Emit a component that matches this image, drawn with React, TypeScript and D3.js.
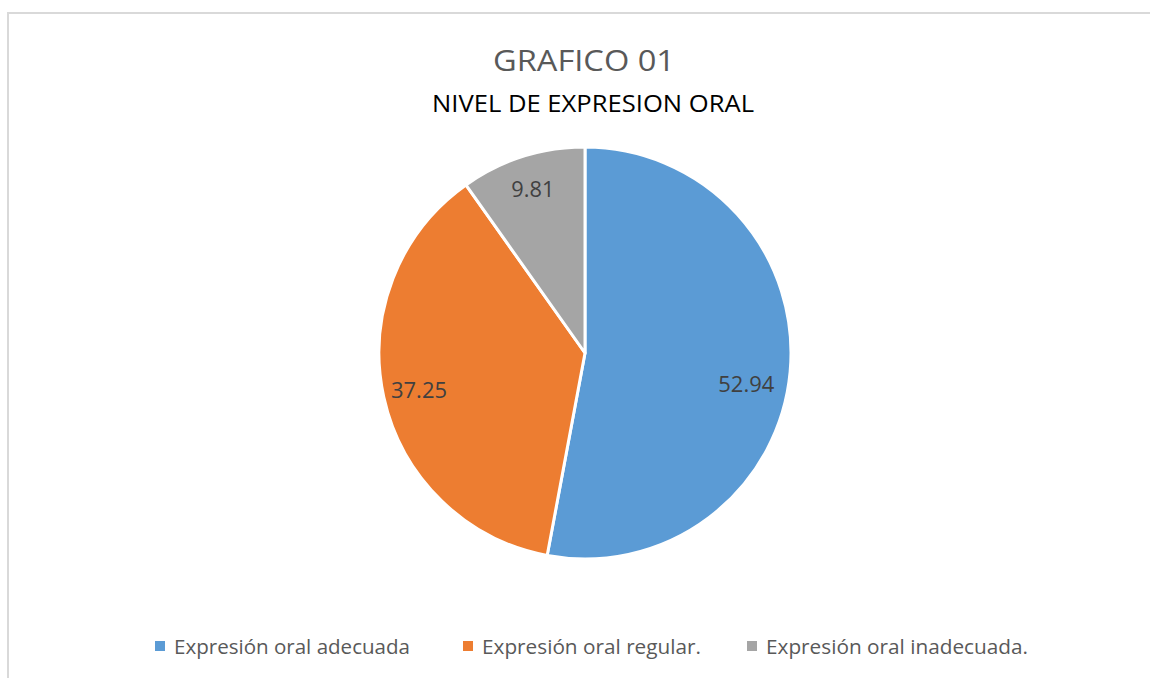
import React from "react";
import * as d3 from "d3";

const categories = ["Expresión oral adecuada", "Expresión oral regular.", "Expresión oral inadecuada."];
const values = [52.94, 37.25, 9.81];
const colors = ["#5B9BD5", "#ED7D31", "#A5A5A5"];
const title = "GRAFICO 01";
const subtitle = "NIVEL DE EXPRESION ORAL";

const W = 1150, H = 678;
const cx = 585, cy = 353, R = 206;
const FONT = "'Open Sans', 'Liberation Sans', sans-serif";

export default function App() {
  const pie = d3.pie<number>().sort(null).value((d) => d);
  const arcs = pie(values);
  const arcGen = d3.arc<d3.PieArcDatum<number>>().innerRadius(0).outerRadius(R);
  const labelArc = d3.arc<d3.PieArcDatum<number>>().innerRadius(344).outerRadius(0);
  const legendX = [155, 463, 747];
  const legendW = [236, 219, 262];
  const labelW = [56, 56, 43];
  const labelDx = [-10, 2, 0];
  const labelDy = [15, 0, 0];
  return (
    <svg width={W} height={H} style={{ position: "absolute", left: 0, top: 0, background: "#fff" }}>
      <rect x={8} y={13} width={W + 10} height={H + 10} fill="#fff" stroke="#d9d9d9" strokeWidth={2} />
      <text x={584} y={71} textAnchor="middle" fontFamily={FONT} fontSize={29} fill="#595959" textLength={182} lengthAdjust="spacingAndGlyphs">{title}</text>
      <text x={593} y={112} textAnchor="middle" fontFamily={FONT} fontSize={23} fill="#000" textLength={322} lengthAdjust="spacingAndGlyphs">{subtitle}</text>
      <g transform={`translate(${cx},${cy})`}>
        {arcs.map((a, i) => (
          <path key={i} d={arcGen(a) || ""} fill={colors[i]} stroke="#fff" strokeWidth={3} strokeLinejoin="round" />
        ))}
        {arcs.map((a, i) => {
          const [x, y] = labelArc.centroid(a);
          return (
            <text key={"l" + i} x={x + labelDx[i]} y={y + labelDy[i]} textAnchor="middle" dominantBaseline="central" fontFamily={FONT} fontSize={21} fill="#404040" textLength={labelW[i]} lengthAdjust="spacingAndGlyphs">
              {values[i].toFixed(2)}
            </text>
          );
        })}
      </g>
      {categories.map((c, i) => (
        <g key={"lg" + i}>
          <rect x={legendX[i]} y={641} width={10} height={10} fill={colors[i]} />
          <text x={legendX[i] + 19} y={654} fontFamily={FONT} fontSize={20} fill="#595959" textLength={legendW[i]} lengthAdjust="spacingAndGlyphs">{c}</text>
        </g>
      ))}
    </svg>
  );
}
